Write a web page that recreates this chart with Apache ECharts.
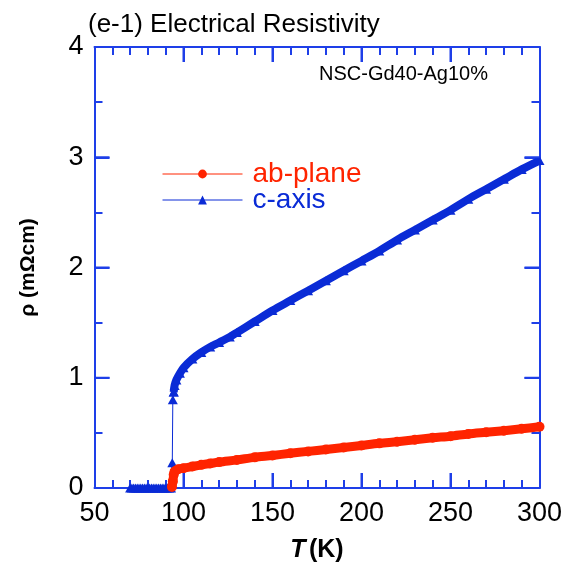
<!DOCTYPE html>
<html>
<head>
<meta charset="utf-8">
<script src="https://cdn.jsdelivr.net/npm/echarts@6/dist/echarts.min.js"></script>
<style>html,body{margin:0;padding:0;background:#fff;}#c{width:573px;height:573px;}</style>
</head>
<body>
<div id="c"></div>
<script>
// ---- data ----
const abT   = [93.5, 94, 94.5, 95, 97, 100, 105, 110, 115, 120, 130, 140, 150, 160, 170, 180, 190, 200, 210, 220, 230, 240, 250, 260, 270, 280, 290, 300];
const abRho = [0.01, 0.06, 0.12, 0.15, 0.17, 0.18, 0.195, 0.21, 0.222, 0.235, 0.255, 0.278, 0.295, 0.315, 0.332, 0.35, 0.367, 0.386, 0.405, 0.42, 0.437, 0.455, 0.47, 0.49, 0.505, 0.52, 0.537, 0.555];

const cT    = [94.5, 95, 96, 98, 100, 105, 110, 115, 120, 126, 130, 140, 150, 160, 170, 180, 190, 200, 210, 220, 230, 240, 250, 260, 270, 280, 290, 300];
const cRho  = [0.87, 0.93, 0.98, 1.04, 1.09, 1.17, 1.23, 1.28, 1.32, 1.37, 1.41, 1.51, 1.61, 1.70, 1.79, 1.88, 1.97, 2.06, 2.15, 2.25, 2.34, 2.43, 2.52, 2.62, 2.71, 2.80, 2.89, 2.97];

const cLowT   = [70, 71, 72, 73, 74, 75, 76, 77, 78, 79, 80, 81, 82, 83, 84, 85, 86, 87, 88, 89, 90, 91, 92, 93, 93.7, 94, 94.5];
const cLowRho = [0, 0, 0, 0, 0, 0, 0, 0, 0, 0, 0, 0, 0, 0, 0, 0, 0, 0, 0, 0, 0, 0, 0, 0, 0.23, 0.80, 0.87];

const xTicks = {min: 50, max: 300, step: 50, minorPerStep: 5};
const yTicks = {min: 0, max: 4, step: 1, minorPerStep: 2};
const xMajorTickVals = [100, 150, 200, 250];
const yMajorTickVals = [1, 2, 3];
const seriesNames = ['ab-plane', 'c-axis'];
const sampleLabel = 'NSC-Gd40-Ag10%';
const chartTitle = '(e-1) Electrical Resistivity';

// ---- styling ----
const RED = '#ff2400';
const BLUE = '#0a2bd6';
const AX = '#1e3fe8';
const FONT = '"Liberation Sans", Arial, Helvetica, sans-serif';
const MAJOR_LEN = 15;
const W = 573, H = 573;
const GRID = {left:94.5, right:33.5, top:47, bottom:85};

function pairs(xs, ys){ return xs.map((x,i)=>[x, ys[i]]); }

function xAx(pos, showLabel){
  return {
    type:'value', position: pos, min:xTicks.min, max:xTicks.max, interval:xTicks.step,
    axisLine:{show:true, onZero:false, lineStyle:{color:AX, width:2}},
    axisTick:{show:true, interval:0, inside:true, length:MAJOR_LEN, lineStyle:{color:AX, width:2}},
    minorTick:{show:true, splitNumber:xTicks.minorPerStep, length:8, lineStyle:{color:AX, width:2}},
    splitLine:{show:false},
    axisLabel:{show:showLabel, fontSize:27, color:'#000', margin:12, fontFamily:FONT},
    name: showLabel ? '{it|T} {b|(K)}' : '',
    nameLocation:'middle', nameGap:50,
    nameTextStyle:{rich:{
      it:{fontSize:25, fontWeight:'bold', fontStyle:'italic', color:'#000', fontFamily:FONT},
      b:{fontSize:25, fontWeight:'bold', color:'#000', fontFamily:FONT}
    }}
  };
}
function yAx(pos, showLabel){
  return {
    type:'value', position: pos, min:yTicks.min, max:yTicks.max, interval:yTicks.step,
    axisLine:{show:true, onZero:false, lineStyle:{color:AX, width:2}},
    axisTick:{show:true, interval:0, inside:true, length:MAJOR_LEN, lineStyle:{color:AX, width:2}},
    minorTick:{show:true, splitNumber:yTicks.minorPerStep, length:8, lineStyle:{color:AX, width:2}},
    splitLine:{show:false},
    axisLabel:{show:showLabel, fontSize:27, color:'#000', margin:11, fontFamily:FONT},
    name: showLabel ? 'ρ (mΩcm)' : '',
    nameLocation:'middle', nameGap:56,
    nameTextStyle:{fontSize:21, fontWeight:'bold', color:'#000', fontFamily:FONT}
  };
}

const chart = echarts.init(document.getElementById('c'), null, {renderer:'canvas', width:W, height:H});
chart.setOption({
  animation:false,
  backgroundColor:'#fff',
  title:{text:chartTitle, left:83, top:7, textStyle:{fontSize:26, fontWeight:'normal', color:'#000', fontFamily:FONT}},
  grid:Object.assign({containLabel:false}, GRID),
  xAxis:[xAx('bottom', true), xAx('top', false)],
  yAxis:[yAx('left', true), yAx('right', false)],
  legend:{
    orient:'vertical', left:162, top:160, padding:0,
    itemWidth:80, itemHeight:11, itemGap:-2,
    lineStyle:{width:1},
    textStyle:{fontSize:28, fontFamily:FONT, padding:[0,0,0,5]},
    data:[
      {name:seriesNames[0], textStyle:{color:RED}},
      {name:seriesNames[1], textStyle:{color:BLUE}}
    ]
  },
  series:[
    {name:seriesNames[1], type:'line', data:pairs(cLowT, cLowRho), symbol:'triangle', symbolSize:[10,9],
     lineStyle:{color:BLUE, width:1}, itemStyle:{color:BLUE}, z:2},
    {name:seriesNames[1], type:'line', data:pairs(cT, cRho), symbol:'triangle', symbolSize:[10,9], smooth:0.3,
     lineStyle:{color:BLUE, width:8}, itemStyle:{color:BLUE}, z:2},
    {name:seriesNames[0], type:'line', data:pairs(abT, abRho), symbol:'circle', symbolSize:10, smooth:0.3,
     lineStyle:{color:RED, width:9}, itemStyle:{color:RED}, z:3}
  ]
});

// ---- long (major) ticks on all four sides ----
// pixel position from the chart's own axis scale; falls back to the grid's linear mapping if unavailable
function num(v){ const n = Array.isArray(v) ? v[0] : v; return (typeof n === 'number' && isFinite(n)) ? n : null; }
const plotL = GRID.left, plotR = W - GRID.right, plotT = GRID.top, plotB = H - GRID.bottom;
function xPix(v){
  let p = null;
  try { p = num(chart.convertToPixel({xAxisIndex:0}, v)); } catch(e) { p = null; }
  return p !== null ? p : plotL + (v - xTicks.min) / (xTicks.max - xTicks.min) * (plotR - plotL);
}
function yPix(v){
  let p = null;
  try { const r = chart.convertToPixel({yAxisIndex:0}, v); p = Array.isArray(r) ? num(r[1]) : num(r); } catch(e) { p = null; }
  return p !== null ? p : plotB - (v - yTicks.min) / (yTicks.max - yTicks.min) * (plotB - plotT);
}
function tickLine(id, x1, y1, x2, y2){
  return {type:'line', id:id, z:100, zlevel:0, silent:true,
          shape:{x1:x1, y1:y1, x2:x2, y2:y2}, style:{stroke:AX, lineWidth:2}};
}
const gfx = [{type:'text', id:'sample', right:85, top:64, z:100, style:{text:sampleLabel, fill:'#000', font:'20px '+FONT}}];
xMajorTickVals.forEach((v, i) => {
  const px = xPix(v);
  gfx.push(tickLine('xb'+i, px, plotB, px, plotB - MAJOR_LEN));
  gfx.push(tickLine('xt'+i, px, plotT, px, plotT + MAJOR_LEN));
});
yMajorTickVals.forEach((v, i) => {
  const py = yPix(v);
  gfx.push(tickLine('yl'+i, plotL, py, plotL + MAJOR_LEN, py));
  gfx.push(tickLine('yr'+i, plotR, py, plotR - MAJOR_LEN, py));
});
chart.setOption({graphic: gfx});
</script>
</body>
</html>
